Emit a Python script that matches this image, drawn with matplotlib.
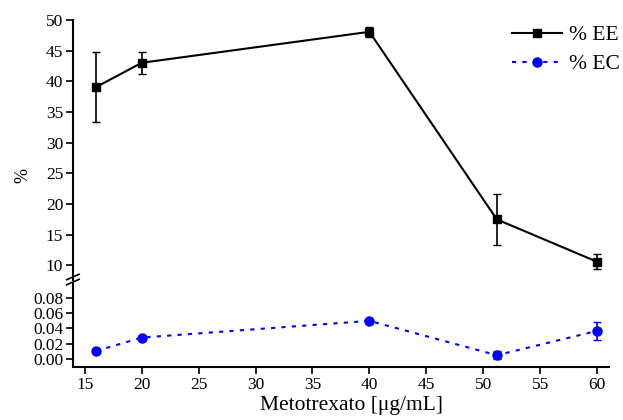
import matplotlib
matplotlib.use('Agg')
import matplotlib.pyplot as plt
from matplotlib.lines import Line2D

# datos
conc = [16, 20, 40, 51.2, 60]
ee = [39.1, 43.05, 48.1, 17.5, 10.6]
ee_err = [5.65, 1.75, 0.85, 4.15, 1.25]
ec = [0.0105, 0.028, 0.0498, 0.005, 0.0367]
ec_err = [0.0, 0.0, 0.0, 0.005, 0.0115]
xticks = [15, 20, 25, 30, 35, 40, 45, 50, 55, 60]
ec_ticks = [0.00, 0.02, 0.04, 0.06, 0.08]

plt.rcParams['font.family'] = ['Liberation Serif', 'DejaVu Serif']
plt.rcParams['font.size'] = 12.5

fig = plt.figure(figsize=(6.23, 4.2), dpi=100)
ax1 = fig.add_axes([0.117, 0.333, 0.8605, 0.619])
ax2 = fig.add_axes([0.117, 0.126, 0.8605, 0.198])

ax1.errorbar(conc, ee, yerr=ee_err, color='black', marker='s', markersize=6,
             linewidth=1.5, capsize=3, elinewidth=1.2)
ax2.errorbar(conc, ec, yerr=ec_err, color='#0000ff', marker='o', markersize=6.5,
             linewidth=1.5, linestyle=(0, (2, 3)), capsize=3, elinewidth=1.2)

ax1.set_xlim(13.95, 61.05)
ax2.set_xlim(13.95, 61.05)
ax1.set_ylim(7.6, 50)
ax1.set_yticks([10, 15, 20, 25, 30, 35, 40, 45, 50])
ax2.set_ylim(-0.0105, 0.098)
ax2.set_yticks(ec_ticks)
ax2.set_yticklabels(['%.2f' % t for t in ec_ticks])
ax2.set_xticks(xticks)

for s in ['top', 'right', 'bottom']:
    ax1.spines[s].set_visible(False)
for s in ['top', 'right']:
    ax2.spines[s].set_visible(False)
ax1.spines['left'].set_linewidth(1.5)
ax2.spines['left'].set_linewidth(1.5)
ax2.spines['bottom'].set_linewidth(1.5)
ax1.set_xticks([])
ax1.tick_params(axis='y', direction='out', length=5, width=1.2, pad=2)
ax2.tick_params(axis='both', direction='out', length=5, width=1.2, pad=2)
ax1.patch.set_alpha(0)
ax2.patch.set_alpha(0)

# marcas de corte
kw = dict(transform=fig.transFigure, color='black', linewidth=1.2, clip_on=False)
for dy in (0, 0.012):
    fig.add_artist(plt.Line2D([0.107, 0.127], [0.322 + dy, 0.335 + dy], **kw))

ax2.set_xlabel('Metotrexato [μg/mL]', fontsize=15.5, labelpad=2)
ax2.xaxis.label.set_x(0.52)
fig.text(0.037, 0.581, '%', rotation=90, va='center', ha='center', fontsize=13)

h1 = Line2D([], [], color='black', marker='s', markersize=6, linewidth=1.5)
h2 = Line2D([], [], color='#0000ff', marker='o', markersize=6.5, linewidth=1.5,
            linestyle=(0, (2, 3)))
fig.legend([h1, h2], ['% EE', '% EC'], loc='upper left', frameon=False, fontsize=15.5,
           bbox_to_anchor=(0.822, 0.94), borderpad=0, borderaxespad=0,
           handlelength=2.3, handletextpad=0.35, labelspacing=0.42)

fig.savefig('out.png', dpi=100)
